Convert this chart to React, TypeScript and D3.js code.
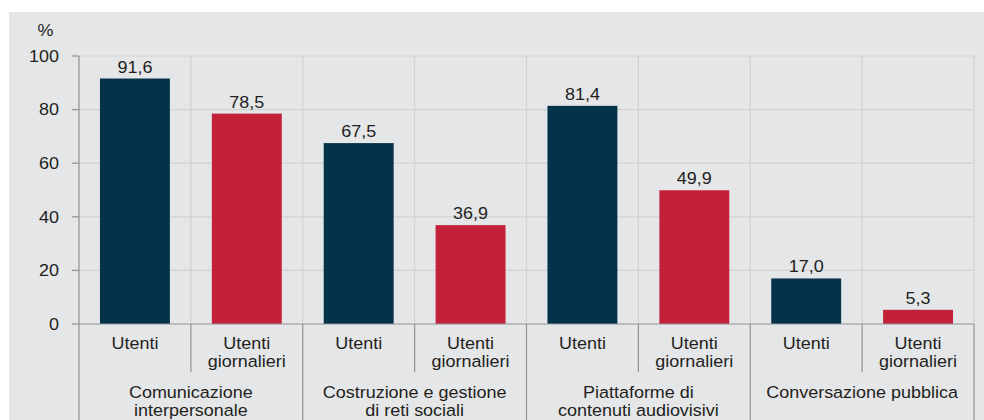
import React from "react";
import * as d3 from "d3";

const groups = [
  ["Comunicazione", "interpersonale"],
  ["Costruzione e gestione", "di reti sociali"],
  ["Piattaforme di", "contenuti audiovisivi"],
  ["Conversazione pubblica"],
];
const utenti = [91.6, 67.5, 81.4, 17.0];
const giornalieri = [78.5, 36.9, 49.9, 5.3];
const subLabels = [["Utenti"], ["Utenti", "giornalieri"]];
const yTicks = [0, 20, 40, 60, 80, 100];

const W = 984;
const H = 420;
const FONT = "'Liberation Sans', Arial, sans-serif";
const NAVY = "#04324b";
const RED = "#c3203a";
const GRID = "#cfd1d3";
const AXIS = "#8f9193";
const TEXT = "#231f20";
const FS = 16.5;
const SX = 1.09;

function T({ x, y, anchor = "middle", dy, children }: any) {
  return (
    <text
      transform={`translate(${x},${y}) scale(${SX},1)`}
      textAnchor={anchor}
      dy={dy}
      fontSize={FS}
      fill={TEXT}
    >
      {children}
    </text>
  );
}

export default function App() {
  const left = 79;
  const right = 974;
  const y0 = 324;
  const yTop = 56;

  const bars = groups.flatMap((g, i) => [
    { key: `u${i}`, value: utenti[i], color: NAVY, sub: 0 },
    { key: `g${i}`, value: giornalieri[i], color: RED, sub: 1 },
  ]);

  const x = d3
    .scaleBand<string>()
    .domain(bars.map((b) => b.key))
    .range([left, right])
    .paddingInner(0.375)
    .paddingOuter(0.1875);
  const bw = (right - left) / bars.length;
  const bandStart = (i: number) => left + i * bw;
  const y = d3.scaleLinear().domain([0, 100]).range([y0, yTop]);
  const fmt = (v: number) => d3.format(".1f")(v).replace(".", ",");

  return (
    <svg
      width={W}
      height={H}
      style={{ position: "absolute", left: 0, top: 0 }}
      fontFamily={FONT}
    >
      <rect x={9} y={12} width={W - 9} height={H - 12} fill="#e5e6e8" />
      {yTicks.filter((t) => t > 0).map((t) => (
        <line key={t} x1={left} x2={right} y1={y(t)} y2={y(t)} stroke={GRID} strokeWidth={1.2} />
      ))}
      {bars.map((b, i) => (
        <line key={b.key} x1={bandStart(i + 1)} x2={bandStart(i + 1)} y1={yTop} y2={y0} stroke={GRID} strokeWidth={1.2} />
      ))}
      {bars.map((b, i) => {
        const cx = bandStart(i) + bw / 2;
        const w = x.bandwidth();
        return (
          <g key={b.key}>
            <rect x={cx - w / 2} y={y(b.value)} width={w} height={y0 - y(b.value)} fill={b.color} />
            <T x={cx} y={y(b.value) - 6}>{fmt(b.value)}</T>
          </g>
        );
      })}
      {yTicks.map((t) => (
        <g key={t}>
          <line x1={72} x2={left} y1={y(t)} y2={y(t)} stroke={AXIS} strokeWidth={1.2} />
          <T x={59} y={y(t)} anchor="end" dy="0.35em">{t}</T>
        </g>
      ))}
      <T x={45.5} y={30.5} dy="0.35em">%</T>
      <line x1={left} x2={left} y1={yTop} y2={H} stroke={AXIS} strokeWidth={1.2} />
      <line x1={left} x2={right} y1={y0} y2={y0} stroke={AXIS} strokeWidth={1.2} />
      {bars.map((b, i) => {
        const xs = bandStart(i + 1);
        const groupEnd = (i + 1) % 2 === 0;
        return (
          <line key={b.key} x1={xs} x2={xs} y1={y0} y2={groupEnd ? H : 372} stroke={AXIS} strokeWidth={1.2} />
        );
      })}
      {bars.map((b, i) => {
        const cx = bandStart(i) + bw / 2;
        return subLabels[b.sub].map((s, j) => (
          <T key={b.key + j} x={cx} y={348.5 + j * 18.5}>{s}</T>
        ));
      })}
      {groups.map((g, i) => {
        const cx = bandStart(i * 2 + 1);
        return g.map((s, j) => (
          <T key={i + "-" + j} x={cx} y={397.5 + j * 18.5}>{s}</T>
        ));
      })}
    </svg>
  );
}
